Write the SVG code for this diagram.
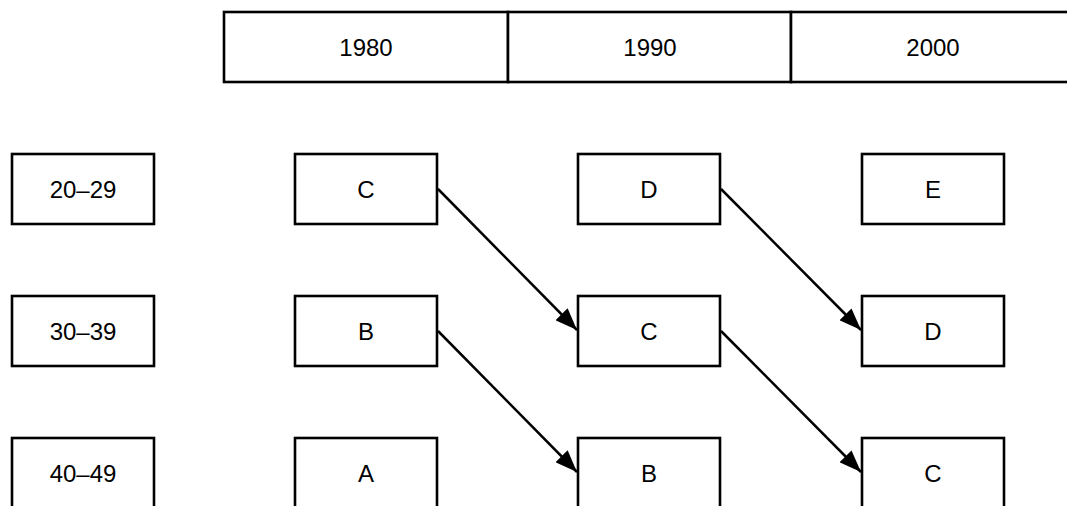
<svg xmlns="http://www.w3.org/2000/svg" width="1067" height="506" viewBox="0 0 1067 506">
<style>
rect{fill:#fff;stroke:#000;stroke-width:2.6}
text{font-family:"Liberation Sans",Arial,sans-serif;font-size:24px;fill:#000;text-anchor:middle}
.c line{stroke:#000;stroke-width:2.5}
</style>
<defs>
<marker id="ah" markerUnits="userSpaceOnUse" markerWidth="22" markerHeight="17" refX="22" refY="8.5" orient="auto">
<path d="M0,0 L22,8.5 L0,17 z" fill="#000"/>
</marker>
</defs>
<rect width="1067" height="506" style="stroke:none"/>
<g id="header">
<rect x="224" y="12" width="284" height="70"/>
<rect x="508" y="12" width="283" height="70"/>
<rect x="791" y="12" width="284" height="70"/>
<text x="366" y="56">1980</text>
<text x="650" y="56">1990</text>
<text x="933" y="56">2000</text>
</g>
<g id="age20"><rect x="12" y="154" width="142" height="70"/><text x="83" y="198">20–29</text></g>
<g id="age30"><rect x="12" y="296" width="142" height="70"/><text x="83" y="340">30–39</text></g>
<g id="age40"><rect x="12" y="438" width="142" height="70"/><text x="83" y="482">40–49</text></g>
<g id="c1980"><rect x="295" y="154" width="142" height="70"/><text x="366" y="198">C</text></g>
<g id="b1980"><rect x="295" y="296" width="142" height="70"/><text x="366" y="340">B</text></g>
<g id="a1980"><rect x="295" y="438" width="142" height="70"/><text x="366" y="482">A</text></g>
<g id="d1990"><rect x="578" y="154" width="142" height="70"/><text x="649" y="198">D</text></g>
<g id="c1990"><rect x="578" y="296" width="142" height="70"/><text x="649" y="340">C</text></g>
<g id="b1990"><rect x="578" y="438" width="142" height="70"/><text x="649" y="482">B</text></g>
<g id="e2000"><rect x="862" y="154" width="142" height="70"/><text x="933" y="198">E</text></g>
<g id="d2000"><rect x="862" y="296" width="142" height="70"/><text x="933" y="340">D</text></g>
<g id="c2000"><rect x="862" y="438" width="142" height="70"/><text x="933" y="482">C</text></g>
<g class="c" id="connectors">
<line x1="438" y1="189" x2="577" y2="330" marker-end="url(#ah)"/>
<line x1="438" y1="331" x2="577" y2="472" marker-end="url(#ah)"/>
<line x1="721" y1="189" x2="861" y2="330" marker-end="url(#ah)"/>
<line x1="721" y1="331" x2="861" y2="472" marker-end="url(#ah)"/>
</g>
</svg>
